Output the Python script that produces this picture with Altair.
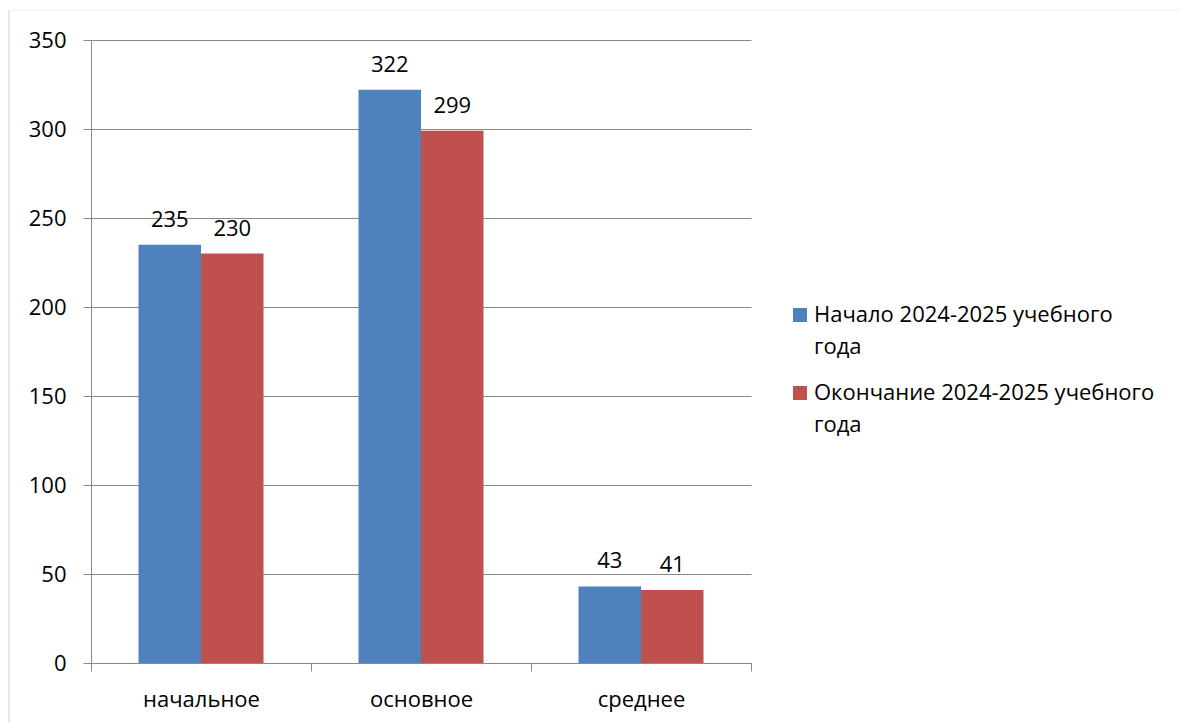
import altair as alt
import pandas as pd

categories = ["начальное", "основное", "среднее"]
series = ["Начало 2024-2025 учебного года", "Окончание 2024-2025 учебного года"]
start_values = [235, 322, 43]
end_values = [230, 299, 41]
colors = ["#4F81BD", "#C0504D"]

rows = []
for c, a, b in zip(categories, start_values, end_values):
    rows.append({"cat": c, "series": series[0], "value": a})
    rows.append({"cat": c, "series": series[1], "value": b})
df = pd.DataFrame(rows)

FONT = "Open Sans"
FS = 22
W, H = 660, 623

x = alt.X("cat:N", sort=categories, title=None,
          scale=alt.Scale(paddingInner=0, paddingOuter=0),
          axis=alt.Axis(labelAngle=0, tickBand="extent", tickSize=8,
                        labelPadding=18, labelFontSize=FS, labelFont=FONT,
                        labelColor="black", domainColor="#898989",
                        tickColor="#898989", grid=False))
xo = alt.XOffset("series:N", sort=series,
                 scale=alt.Scale(paddingInner=0, paddingOuter=0.76))
y = alt.Y("value:Q", title=None,
          scale=alt.Scale(domain=[0, 350], nice=False),
          axis=alt.Axis(values=[0, 50, 100, 150, 200, 250, 300, 350],
                        tickSize=8, labelPadding=17, labelFontSize=FS,
                        labelFont=FONT, labelColor="black",
                        domainColor="#898989", tickColor="#898989",
                        gridColor="#898989", gridWidth=1))

legend_expr = ("datum.label == '" + series[0] + "' ? ['Начало 2024-2025 учебного', 'года'] : "
               "['Окончание 2024-2025 учебного', 'года']")

bars = alt.Chart(df).mark_bar().encode(
    x=x, xOffset=xo, y=y,
    color=alt.Color("series:N", sort=series,
                    scale=alt.Scale(domain=series, range=colors),
                    legend=alt.Legend(title=None, orient="none",
                                      legendX=698, legendY=264,
                                      symbolType="square",
                                      symbolSize=196, symbolStrokeWidth=0,
                                      labelFont=FONT, labelFontSize=FS,
                                      labelColor="black", labelLimit=450,
                                      labelOffset=3, labelBaseline="middle",
                                      rowPadding=24, padding=0,
                                      labelExpr=legend_expr)),
)

labels = alt.Chart(df).mark_text(dy=-18, baseline="alphabetic", fontSize=FS,
                                 font=FONT, color="black").encode(
    x=alt.X("cat:N", sort=categories), xOffset=alt.XOffset("series:N", sort=series),
    y="value:Q", text="value:Q")

border_left = alt.Chart(pd.DataFrame({"a": [0]})).mark_rule(color="#d0d0d0").encode(
    x=alt.value(-82), y=alt.value(-30), y2=alt.value(720))
border_top = alt.Chart(pd.DataFrame({"a": [0]})).mark_rule(color="#eeeeee").encode(
    x=alt.value(-82), x2=alt.value(1100), y=alt.value(-30))

chart = alt.layer(border_left, border_top, bars, labels).properties(
    width=W, height=H,
    autosize=alt.AutoSizeParams(type="none"),
    padding={"left": 83, "top": 32, "right": 430, "bottom": 60},
).configure(style={"guide-label": {"lineHeight": 32}}
).configure_view(stroke=None).configure_axis(domainWidth=1, tickWidth=1)

chart.save("out.html", embed_options={"renderer": "svg", "actions": False})
